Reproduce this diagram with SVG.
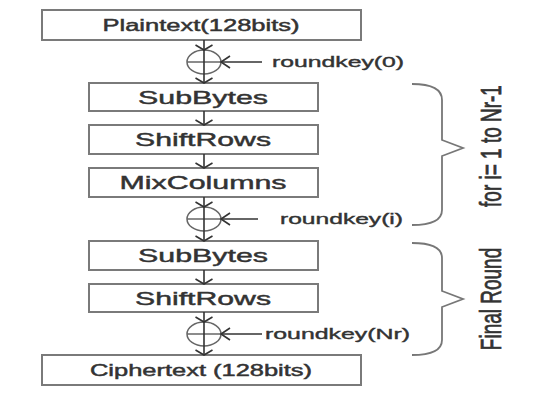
<svg xmlns="http://www.w3.org/2000/svg" width="537" height="394" viewBox="0 0 537 394">
<style>
.box{fill:#fff;stroke:#7a7a7a;stroke-width:2}
.t{font-family:"Liberation Sans",Arial,sans-serif;fill:#333;stroke:#333;stroke-width:0.45;text-anchor:middle}
.k{font-family:"Liberation Sans",Arial,sans-serif;fill:#333;stroke:#333;stroke-width:0.4;font-size:15.5px}
.ln{fill:none;stroke:#333;stroke-width:1.6}
.xor{fill:none;stroke:#666;stroke-width:1.5}
.br{fill:none;stroke:#777;stroke-width:1.8}
</style>
<defs>
<marker id="av" markerUnits="userSpaceOnUse" markerWidth="20" markerHeight="20" refX="0" refY="0" viewBox="-10 -10 20 20" orient="auto" overflow="visible">
<path d="M-5,-8.5 L0,0 L-5,8.5" fill="none" stroke="#333" stroke-width="1.6"/>
</marker>
<marker id="ah" markerUnits="userSpaceOnUse" markerWidth="20" markerHeight="20" refX="0" refY="0" viewBox="-10 -10 20 20" orient="auto" overflow="visible">
<path d="M-9,-6 L0,0 L-9,6" fill="none" stroke="#333" stroke-width="1.6"/>
</marker>
</defs>
<rect width="537" height="394" fill="#fff"/>

<g id="plaintext"><rect class="box" x="42" y="10" width="319" height="30"/><text class="t" x="201" y="31" font-size="16" textLength="197" lengthAdjust="spacingAndGlyphs">Plaintext(128bits)</text></g>
<g id="xor0"><ellipse class="xor" cx="204" cy="62" rx="17" ry="12"/><line class="xor" x1="187" y1="62" x2="221" y2="62"/><line class="ln" x1="204" y1="50" x2="204" y2="74"/></g>
<g id="roundkey0"><text class="k" x="272" y="67" textLength="132" lengthAdjust="spacingAndGlyphs">roundkey(0)</text></g>
<g id="subbytes1"><rect class="box" x="89" y="83" width="229" height="28"/><text class="t" x="203" y="104" font-size="19" textLength="130" lengthAdjust="spacingAndGlyphs">SubBytes</text></g>
<g id="shiftrows1"><rect class="box" x="89" y="125" width="229" height="29"/><text class="t" x="203" y="146" font-size="19" textLength="136" lengthAdjust="spacingAndGlyphs">ShiftRows</text></g>
<g id="mixcolumns"><rect class="box" x="89" y="168" width="229" height="29"/><text class="t" x="203" y="189" font-size="19" textLength="167" lengthAdjust="spacingAndGlyphs">MixColumns</text></g>
<g id="xori"><ellipse class="xor" cx="204" cy="219" rx="17" ry="12"/><line class="xor" x1="187" y1="219" x2="221" y2="219"/><line class="ln" x1="204" y1="207" x2="204" y2="231"/></g>
<g id="roundkeyi"><text class="k" x="280" y="224" textLength="123" lengthAdjust="spacingAndGlyphs">roundkey(i)</text></g>
<g id="subbytes2"><rect class="box" x="89" y="241" width="229" height="29"/><text class="t" x="203" y="262" font-size="19" textLength="130" lengthAdjust="spacingAndGlyphs">SubBytes</text></g>
<g id="shiftrows2"><rect class="box" x="89" y="284" width="229" height="28"/><text class="t" x="203" y="305" font-size="19" textLength="136" lengthAdjust="spacingAndGlyphs">ShiftRows</text></g>
<g id="xornr"><ellipse class="xor" cx="204" cy="334" rx="17" ry="12"/><line class="xor" x1="187" y1="334" x2="221" y2="334"/><line class="ln" x1="204" y1="322" x2="204" y2="346"/></g>
<g id="roundkeynr"><text class="k" x="265" y="339" textLength="145" lengthAdjust="spacingAndGlyphs">roundkey(Nr)</text></g>
<g id="ciphertext"><rect class="box" x="42" y="355" width="319" height="30"/><text class="t" x="201" y="376" font-size="16" textLength="222" lengthAdjust="spacingAndGlyphs">Ciphertext (128bits)</text></g>

<g id="loop-brace"><path class="br" d="M412,84 Q442,84 442,100 L442,140 L463,148 L442,156 L442,210 Q442,225 412,225"/><text class="t" font-size="19" transform="translate(501,146) scale(1.6,1) rotate(-90)">for i= 1 to Nr-1</text></g>
<g id="final-brace"><path class="br" d="M412,243 Q442,243 442,258 L442,291 L463,299 L442,307 L442,340 Q442,355 412,355"/><text class="t" font-size="19" transform="translate(501,299) scale(1.6,1) rotate(-90)">Final Round</text></g>

<g id="connectors">
<line class="ln" x1="204" y1="40" x2="204" y2="50" marker-end="url(#av)"/>
<line class="ln" x1="204" y1="74" x2="204" y2="83" marker-end="url(#av)"/>
<line class="ln" x1="204" y1="111" x2="204" y2="125" marker-end="url(#av)"/>
<line class="ln" x1="204" y1="154" x2="204" y2="168" marker-end="url(#av)"/>
<line class="ln" x1="204" y1="197" x2="204" y2="207" marker-end="url(#av)"/>
<line class="ln" x1="204" y1="231" x2="204" y2="241" marker-end="url(#av)"/>
<line class="ln" x1="204" y1="270" x2="204" y2="284" marker-end="url(#av)"/>
<line class="ln" x1="204" y1="312" x2="204" y2="322" marker-end="url(#av)"/>
<line class="ln" x1="204" y1="346" x2="204" y2="355" marker-end="url(#av)"/>
<line class="ln" x1="262" y1="62" x2="221" y2="62" marker-end="url(#ah)"/>
<line class="ln" x1="258" y1="219" x2="221" y2="219" marker-end="url(#ah)"/>
<line class="ln" x1="262" y1="334" x2="221" y2="334" marker-end="url(#ah)"/>
</g>
</svg>
